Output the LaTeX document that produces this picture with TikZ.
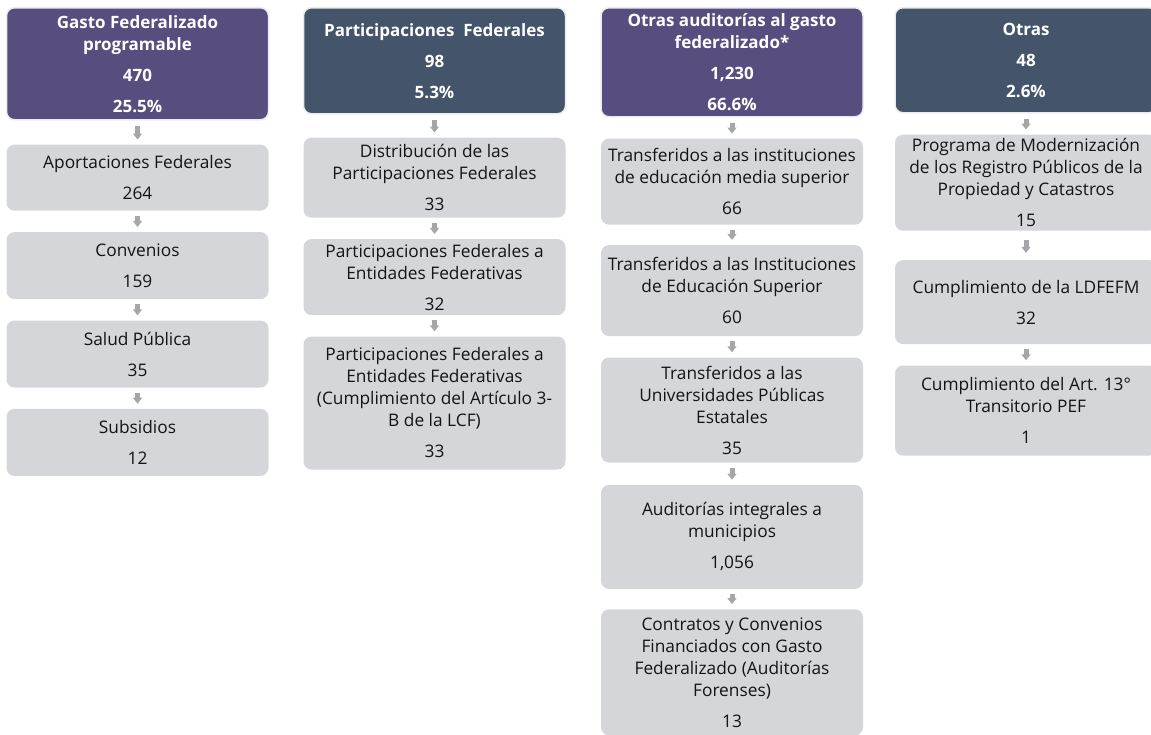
\documentclass[tikz,border=0pt]{standalone}
\usepackage{fontspec}
\setmainfont{Open Sans}
\usetikzlibrary{positioning,arrows.meta}
\definecolor{hdrpurple}{HTML}{574D7F}
\definecolor{hdrslate}{HTML}{44546A}
\definecolor{boxgray}{HTML}{D5D6DA}
\definecolor{arrgray}{HTML}{A5A6AA}

\tikzset{
  base/.style={rounded corners=8pt, align=center, minimum width=262pt,
    inner xsep=0pt, inner ysep=2pt, anchor=north},
  head/.style={base, fill=#1, draw=gray!15, line width=1.5pt, text=white,
    font=\fontsize{17}{22}\selectfont\bfseries},
  item/.style={base, fill=boxgray, text=black!92, minimum height=#1,
    font=\fontsize{17.3}{22}\selectfont},
  link/.style={draw=arrgray, line width=5pt, -{Triangle[width=9pt,length=6pt]},
    shorten <=5pt, shorten >=5pt},
}

\begin{document}
\begin{tikzpicture}[x=1pt,y=-1pt]
  \useasboundingbox (0,0) rectangle (1151,734);

  \node [head=hdrpurple, minimum height=112pt] (gfp) at (137.5,7)
    {Gasto Federalizado\\programable\\[9pt]470\\[9pt]25.5\%};
  \node [item=66pt, below=24pt of gfp] (apf) {Aportaciones Federales\\[9pt]264};
  \node [item=67pt, below=21pt of apf] (conv) {Convenios\\[9pt]159};
  \node [item=67pt, below=21pt of conv] (salud) {Salud Pública\\[9pt]35};
  \node [item=67pt, below=21pt of salud] (subs) {Subsidios\\[9pt]12};

  \node [head=hdrslate, minimum height=106pt] (pf) at (434.5,7)
    {Participaciones\ \ Federales\\[9pt]98\\[9pt]5.3\%};
  \node [item=80pt, below=23pt of pf] (dpf)
    {Distribución de las\\Participaciones Federales\\[9pt]33};
  \node [item=76pt, below=21pt of dpf] (pfef)
    {Participaciones Federales a\\Entidades Federativas\\[9pt]32};
  \node [item=133pt, below=21pt of pfef] (pfcl)
    {Participaciones Federales a\\Entidades Federativas\\(Cumplimiento del Artículo 3-\\B de la LCF)\\[9pt]33};

  \node [head=hdrpurple, minimum height=109pt] (oag) at (732,7)
    {Otras auditorías al gasto\\federalizado*\\[9pt]1,230\\[9pt]66.6\%};
  \node [item=86pt, below=21pt of oag] (tems)
    {Transferidos a las instituciones\\de educación media superior\\[9pt]66};
  \node [item=91pt, below=20pt of tems] (tes)
    {Transferidos a las Instituciones\\de Educación Superior\\[9pt]60};
  \node [item=105pt, below=21pt of tes] (tupe)
    {Transferidos a las\\Universidades Públicas\\Estatales\\[9pt]35};
  \node [item=104pt, below=22pt of tupe] (aim)
    {Auditorías integrales a\\municipios\\[9pt]1,056};
  \node [item=126pt, below=20pt of aim] (ccf)
    {Contratos y Convenios\\Financiados con Gasto\\Federalizado (Auditorías\\Forenses)\\[9pt]13};

  \node [head=hdrslate, minimum height=105pt] (otr) at (1026,7)
    {Otras\\[9pt]48\\[9pt]2.6\%};
  \node [item=96pt, below=21pt of otr] (pmrp)
    {Programa de Modernización\\de los Registro Públicos de la\\Propiedad y Catastros\\[9pt]15};
  \node [item=84pt, below=29pt of pmrp] (cldf) {Cumplimiento de la LDFEFM\\[9pt]32};
  \node [item=90pt, below=21pt of cldf] (cart)
    {Cumplimiento del Art. 13°\\Transitorio PEF\\[9pt]1};

  \draw [link] (gfp) -- (apf);
  \draw [link] (apf) -- (conv);
  \draw [link] (conv) -- (salud);
  \draw [link] (salud) -- (subs);
  \draw [link] (pf) -- (dpf);
  \draw [link] (dpf) -- (pfef);
  \draw [link] (pfef) -- (pfcl);
  \draw [link] (oag) -- (tems);
  \draw [link] (tems) -- (tes);
  \draw [link] (tes) -- (tupe);
  \draw [link] (tupe) -- (aim);
  \draw [link] (aim) -- (ccf);
  \draw [link] (otr) -- (pmrp);
  \draw [link, shorten <=9pt, shorten >=7pt] (pmrp) -- (cldf);
  \draw [link] (cldf) -- (cart);
\end{tikzpicture}
\end{document}
